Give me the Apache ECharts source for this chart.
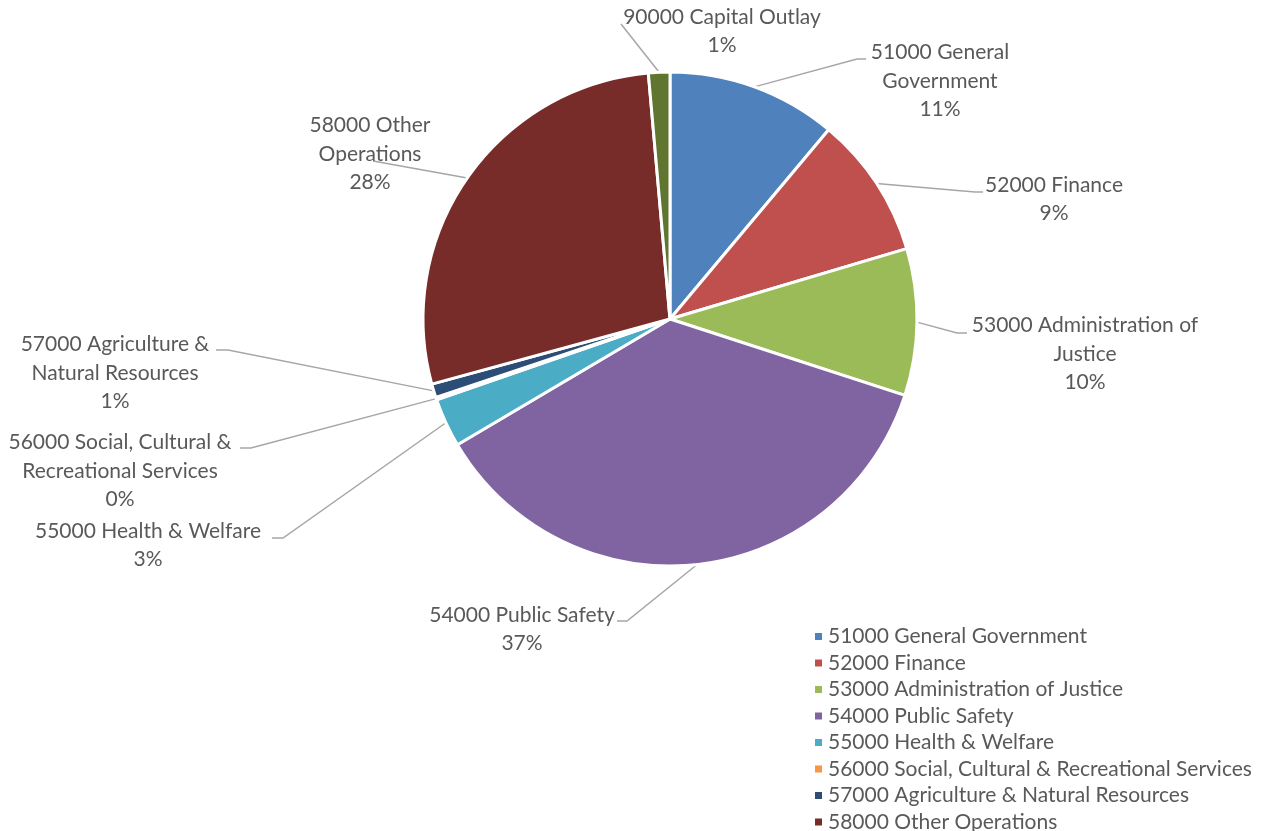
<!DOCTYPE html>
<html>
<head>
<meta charset="utf-8">
<script src="https://cdn.jsdelivr.net/npm/echarts@6/dist/echarts.min.js"></script>
<style>
html,body{margin:0;padding:0;background:#fff;}
#chart{width:1266px;height:831px;}
</style>
</head>
<body>
<div id="chart"></div>
<script>
// ---- data ----
const categories = [
  '51000 General Government',
  '52000 Finance',
  '53000 Administration of Justice',
  '54000 Public Safety',
  '55000 Health & Welfare',
  '56000 Social, Cultural & Recreational Services',
  '57000 Agriculture & Natural Resources',
  '58000 Other Operations',
  '90000 Capital Outlay'
];
const values = [11.1, 9.3, 9.6, 36.5, 3.2, 0.15, 0.9, 27.85, 1.4];
const labelNames = [
  '51000 General\nGovernment',
  '52000 Finance',
  '53000 Administration of\nJustice',
  '54000 Public Safety',
  '55000 Health & Welfare',
  '56000 Social, Cultural &\nRecreational Services',
  '57000 Agriculture &\nNatural Resources',
  '58000 Other\nOperations',
  '90000 Capital Outlay'
];

// ---- style / layout ----
const colors = ['#4F81BD','#C0504D','#9BBB59','#8064A2','#4BACC6','#F79646','#2C4D75','#772C2A','#5F7530'];
// label centre [x, y], leader bend point, leader end point
const labelPos = [
  {c:[940, 81],  b:[857, 59],  e:[866, 59]},
  {c:[1054, 199],b:[975, 192], e:[983, 192]},
  {c:[1085, 354],b:[957, 333], e:[967, 333]},
  {c:[522, 629], b:[627, 621], e:[617, 621]},
  {c:[148, 545], b:[283, 538], e:[272, 538]},
  {c:[120, 471], b:[251, 448], e:[240, 448]},
  {c:[115, 373], b:[228, 350], e:[216, 350]},
  {c:[370, 154], b:[373, 161], e:[373, 161]},
  {c:[722, 31],  b:[621, 24],  e:[621, 24]}
];
const FONT = 'Lato';
const TEXT = '#595959';
const FS = 21;

const chart = echarts.init(document.getElementById('chart'));
chart.setOption({
  animation: false,
  color: colors,
  legend: {
    orient: 'vertical',
    left: 808,
    top: 621,
    height: 400,
    itemWidth: 9,
    itemHeight: 9,
    itemGap: 5.5,
    icon: 'rect',
    data: categories,
    textStyle: {color: TEXT, fontFamily: FONT, fontSize: FS, lineHeight: 20}
  },
  series: [{
    type: 'pie',
    center: [670, 319],
    radius: 247,
    startAngle: 90,
    clockwise: true,
    avoidLabelOverlap: false,
    percentPrecision: 0,
    itemStyle: {borderColor: '#fff', borderWidth: 3},
    label: {
      show: true,
      position: 'outside',
      color: TEXT,
      fontFamily: FONT,
      fontSize: FS,
      lineHeight: 28.5,
      align: 'center',
      formatter: p => labelNames[p.dataIndex] + '\n' + p.percent + '%'
    },
    labelLine: {show: true, lineStyle: {color: '#A6A6A6', width: 1.5}},
    labelLayout: function (p) {
      const lp = labelPos[p.dataIndex];
      const s = p.labelLinePoints ? p.labelLinePoints[0] : lp.b;
      return {
        x: lp.c[0], y: lp.c[1], align: 'center', verticalAlign: 'middle',
        labelLinePoints: [s, lp.b, lp.e]
      };
    },
    emphasis: {disabled: true},
    data: categories.map((n, i) => ({name: n, value: values[i]}))
  }]
});
</script>
</body>
</html>
